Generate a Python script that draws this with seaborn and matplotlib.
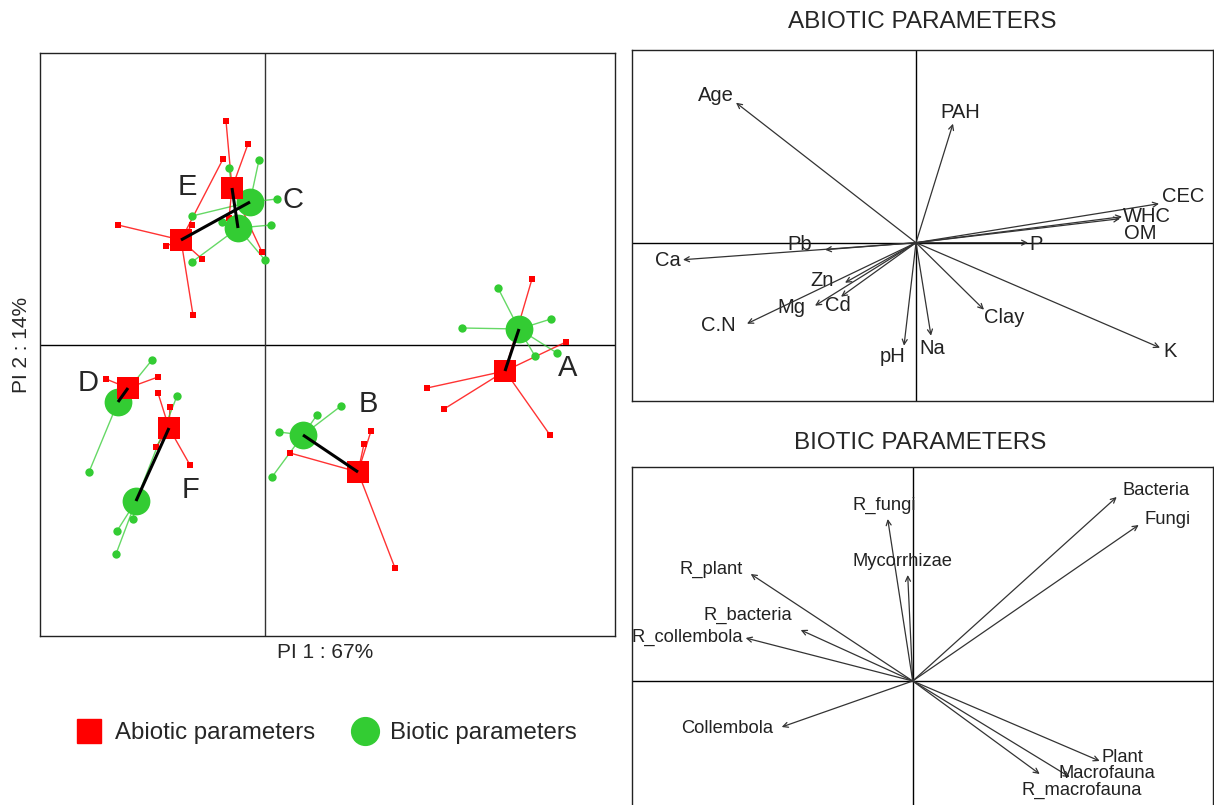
import matplotlib
matplotlib.use("Agg")
import matplotlib.pyplot as plt
from matplotlib.lines import Line2D
import seaborn as sns
import pandas as pd

sns.set_style("white")
plt.rcParams['font.family'] = ['Liberation Sans', 'DejaVu Sans']

RED = "#FF0000"
GREEN = "#33CC33"

# ---------------- main co-inertia plot data ----------------
groups = ["A", "B", "C", "D", "E", "F"]
abiotic_center_x = [2.40, 0.93, -0.84, -1.37, -0.33, -0.96]
abiotic_center_y = [-0.26, -1.27, 1.05, -0.43, 1.57, -0.83]
biotic_center_x = [2.54, 0.38, -0.15, -1.47, -0.27, -1.29]
biotic_center_y = [0.16, -0.90, 1.43, -0.57, 1.17, -1.56]

abiotic_sites_x = {
    "A": [2.67, 3.01, 1.62, 1.79, 2.85],
    "B": [0.25, 0.99, 1.06, 1.30],
    "C": [-1.47, -0.99, -0.63, -0.72, -0.42, -0.73],
    "D": [-1.59, -1.07],
    "E": [-0.39, -0.17, -0.03, -0.36],
    "F": [-1.07, -0.95, -1.09, -0.75],
}
abiotic_sites_y = {
    "A": [0.66, 0.03, -0.43, -0.64, -0.90],
    "B": [-1.08, -0.99, -0.86, -2.23],
    "C": [1.20, 0.99, 0.86, 0.30, 1.86, 1.20],
    "D": [-0.34, -0.32],
    "E": [2.24, 2.01, 0.93, 1.27],
    "F": [-0.48, -0.62, -1.02, -1.20],
}
biotic_sites_x = {
    "A": [2.33, 1.97, 2.86, 2.92, 2.70],
    "B": [0.14, 0.52, 0.76, 0.07],
    "C": [-0.06, 0.12, -0.73],
    "D": [-1.13, -1.76],
    "E": [-0.36, 0.06, -0.73, 0.00, -0.43],
    "F": [-0.88, -1.32, -1.48, -1.49],
}
biotic_sites_y = {
    "A": [0.57, 0.17, 0.26, -0.08, -0.11],
    "B": [-0.87, -0.70, -0.61, -1.32],
    "C": [1.85, 1.46, 1.29],
    "D": [-0.15, -1.27],
    "E": [1.77, 1.20, 0.83, 0.85, 1.23],
    "F": [-0.51, -1.74, -1.86, -2.09],
}
label_x = [3.03, 1.03, 0.28, -1.77, -0.78, -0.74]
label_y = [-0.23, -0.59, 1.45, -0.38, 1.58, -1.45]

# ---------------- abiotic arrows ----------------
abio_vars = ["Age", "PAH", "CEC", "WHC", "OM", "P", "Pb", "Ca", "Zn", "Cd",
             "Mg", "C.N", "pH", "Na", "Clay", "K"]
abio_x = [-1.80, 0.37, 2.43, 2.06, 2.04, 1.12, -0.91, -2.33, -0.71, -0.75,
          -1.01, -1.69, -0.12, 0.15, 0.68, 2.44]
abio_y = [1.40, 1.19, 0.39, 0.26, 0.24, 0.00, -0.07, -0.17, -0.40, -0.54,
          -0.63, -0.81, -1.03, -0.93, -0.67, -1.05]
abio_lab_x = [-2.00, 0.44, 2.67, 2.31, 2.24, 1.20, -1.16, -2.48, -0.94, -0.78,
              -1.25, -1.98, -0.23, 0.16, 0.88, 2.54]
abio_lab_y = [1.47, 1.30, 0.46, 0.26, 0.09, -0.02, -0.02, -0.18, -0.38, -0.63,
              -0.65, -0.83, -1.14, -1.06, -0.75, -1.09]

# ---------------- biotic arrows ----------------
bio_vars = ["R_fungi", "Mycorrhizae", "R_plant", "R_bacteria", "R_collembola",
            "Collembola", "Bacteria", "Fungi", "Plant", "Macrofauna", "R_macrofauna"]
bio_x = [-0.25, -0.05, -1.62, -1.12, -1.67, -1.31, 2.04, 2.26, 1.87, 1.57, 1.27]
bio_y = [1.62, 1.06, 1.07, 0.51, 0.43, -0.46, 1.84, 1.56, -0.80, -0.96, -0.93]
bio_lab_x = [-0.28, -0.10, -2.02, -1.65, -2.25, -1.86, 2.43, 2.55, 2.10, 1.94, 1.69]
bio_lab_y = [1.76, 1.19, 1.12, 0.66, 0.44, -0.47, 1.91, 1.61, -0.76, -0.92, -1.09]

W, H = 1214, 805
fig = plt.figure(figsize=(W / 100, H / 100), dpi=100)

def fr(x0, y0, x1, y1):
    return [x0 / W, 1 - y1 / H, (x1 - x0) / W, (y1 - y0) / H]

# ---------------- main axes ----------------
ax = fig.add_axes(fr(40, 53, 615, 636))
ax.set_xlim(-2.25, 3.50)
ax.set_ylim(-2.91, 2.92)
ax.axhline(0, color="black", lw=1, zorder=1)
ax.axvline(0, color="#333333", lw=1, zorder=1)

rows_a, rows_b = [], []
for i, g in enumerate(groups):
    cxa, cya = abiotic_center_x[i], abiotic_center_y[i]
    cxb, cyb = biotic_center_x[i], biotic_center_y[i]
    for x, y in zip(abiotic_sites_x[g], abiotic_sites_y[g]):
        ax.plot([cxa, x], [cya, y], color=RED, lw=1, alpha=0.8, zorder=2)
        rows_a.append((g, x, y))
    for x, y in zip(biotic_sites_x[g], biotic_sites_y[g]):
        ax.plot([cxb, x], [cyb, y], color=GREEN, lw=1, alpha=0.75, zorder=2)
        rows_b.append((g, x, y))

da = pd.DataFrame(rows_a, columns=["g", "x", "y"])
db = pd.DataFrame(rows_b, columns=["g", "x", "y"])
sns.scatterplot(data=db, x="x", y="y", ax=ax, color=GREEN, marker="o", s=36,
                linewidth=0, zorder=3, legend=False)
sns.scatterplot(data=da, x="x", y="y", ax=ax, color=RED, marker="s", s=20,
                linewidth=0, zorder=3, legend=False)

centers = pd.DataFrame({"g": groups, "ax": abiotic_center_x, "ay": abiotic_center_y,
                        "bx": biotic_center_x, "by": biotic_center_y})
sns.scatterplot(data=centers, x="bx", y="by", ax=ax, color=GREEN, marker="o", s=400,
                linewidth=0, zorder=4, legend=False)
sns.scatterplot(data=centers, x="ax", y="ay", ax=ax, color=RED, marker="s", s=260,
                linewidth=0, zorder=5, legend=False)
for i in range(len(groups)):
    ax.plot([abiotic_center_x[i], biotic_center_x[i]],
            [abiotic_center_y[i], biotic_center_y[i]], color="black", lw=2.2,
            zorder=6, solid_capstyle="butt")
for i, g in enumerate(groups):
    ax.text(label_x[i], label_y[i], g, fontsize=21, ha="center", va="center", zorder=7)

ax.set_xticks([]); ax.set_yticks([])
ax.set_xlabel(""); ax.set_ylabel("")
for sp in ax.spines.values():
    sp.set_color("#222222"); sp.set_linewidth(1)
fig.text(325 / W, 1 - 652 / H, "PI 1 : 67%", fontsize=15, ha="center", va="center")
fig.text(22 / W, 1 - 345 / H, "PI 2 : 14%", fontsize=15, ha="center", va="center",
         rotation=90)

# legend
handles = [Line2D([], [], marker="s", color=RED, markersize=17, linestyle="None"),
           Line2D([], [], marker="o", color=GREEN, markersize=20, linestyle="None")]
fig.legend(handles, ["Abiotic parameters", "Biotic parameters"], loc="center",
           bbox_to_anchor=(326 / W, 1 - 733 / H), ncol=2, frameon=False,
           fontsize=17.3, handletextpad=0.45, columnspacing=1.5, handlelength=1.2)

# ---------------- arrow panels ----------------
def arrow_panel(rect, xlim, ylim, names, xs, ys, lxs, lys, fs):
    a = fig.add_axes(rect)
    a.set_xlim(*xlim); a.set_ylim(*ylim)
    a.axhline(0, color="black", lw=1, zorder=1)
    a.axvline(0, color="black", lw=1, zorder=1)
    for n, x, y, lx, ly in zip(names, xs, ys, lxs, lys):
        a.annotate("", xy=(x, y), xytext=(0, 0),
                   arrowprops=dict(arrowstyle="->", lw=0.9, color="#333333",
                                   shrinkA=0, shrinkB=0, mutation_scale=9))
        a.text(lx, ly, n, fontsize=fs, ha="center", va="center", color="#222222")
    a.set_xticks([]); a.set_yticks([])
    for sp in a.spines.values():
        sp.set_color("#222222"); sp.set_linewidth(1)
    return a

arrow_panel(fr(632, 50, 1213, 401), (-2.84, 2.97), (-1.583, 1.927),
            abio_vars, abio_x, abio_y, abio_lab_x, abio_lab_y, 14.5)
arrow_panel(fr(632, 467, 1213, 821), (-2.807, 3.003), (-1.40, 2.14),
            bio_vars, bio_x, bio_y, bio_lab_x, bio_lab_y, 13.2)

fig.text(922 / W, 1 - 22 / H, "ABIOTIC PARAMETERS", fontsize=17.5, ha="center", va="center")
fig.text(920 / W, 1 - 443 / H, "BIOTIC PARAMETERS", fontsize=17.5, ha="center", va="center")

fig.savefig("out.png", dpi=100)
